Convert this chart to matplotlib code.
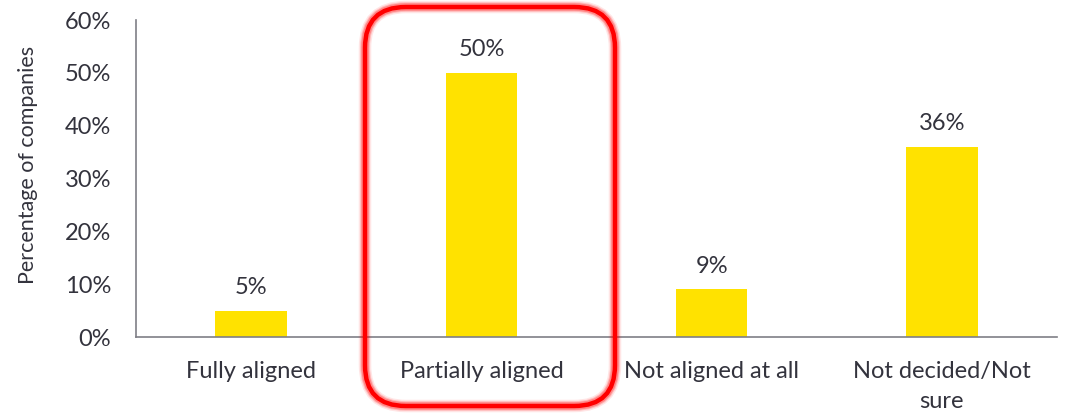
import matplotlib.pyplot as plt
from matplotlib.patches import FancyBboxPatch
from matplotlib.ticker import PercentFormatter

# data
categories = ["Fully aligned", "Partially aligned", "Not aligned at all", "Not decided/Not\nsure"]
values = [5, 50, 9, 36]

plt.rcParams['font.family'] = ['Lato', 'DejaVu Sans']
text_col = "#33333d"
axis_col = "#7f7f86"

fig = plt.figure(figsize=(10.74, 4.15), dpi=100)
ax = fig.add_axes([136 / 1074, 1 - 337 / 415, (1057 - 136) / 1074, (337 - 20) / 415])

x = range(len(categories))
bars = ax.bar(x, values, width=0.31, color="#ffe200")

for b, v in zip(bars, values):
    ax.annotate(f"{v}%", (b.get_x() + b.get_width() / 2, v), xytext=(0, 9),
                textcoords="offset points", ha="center", va="bottom",
                fontsize=17, color=text_col)

ax.set_xlim(-0.5, len(categories) - 0.5)
ax.set_ylim(0, 60)
ax.set_yticks(range(0, 61, 10))
ax.yaxis.set_major_formatter(PercentFormatter(decimals=0))
ax.set_xticks(list(x))
ax.set_xticklabels(categories, linespacing=1.55)
ax.tick_params(axis="both", length=0, labelsize=17, colors=text_col)
ax.tick_params(axis="x", pad=17)
ax.tick_params(axis="y", pad=18)
ax.set_ylabel("Percentage of companies", fontsize=15.5, color=text_col)
ax.yaxis.set_label_coords(-98 / 921, (337 - 165) / 317)

for s in ["top", "right"]:
    ax.spines[s].set_visible(False)
for s in ["left", "bottom"]:
    ax.spines[s].set_color(axis_col)
    ax.spines[s].set_linewidth(1.2)

# red highlight box with soft glow
W, H = 1074, 415
x0, y0, x1, y1 = 365, 7, 615, 406
for lw, a in [(9, 0.1), (7, 0.18), (5.5, 0.28)]:
    fig.patches.append(FancyBboxPatch((x0 / W, 1 - y1 / H), (x1 - x0) / W, (y1 - y0) / H,
                                      boxstyle="round,pad=0,rounding_size=0.038",
                                      transform=fig.transFigure, fill=False,
                                      edgecolor="red", linewidth=lw, alpha=a,
                                      mutation_aspect=W / H))
fig.patches.append(FancyBboxPatch((x0 / W, 1 - y1 / H), (x1 - x0) / W, (y1 - y0) / H,
                                  boxstyle="round,pad=0,rounding_size=0.038",
                                  transform=fig.transFigure, fill=False,
                                  edgecolor="#ff0000", linewidth=3.2,
                                  mutation_aspect=W / H))

fig.savefig("out.png", dpi=100)
